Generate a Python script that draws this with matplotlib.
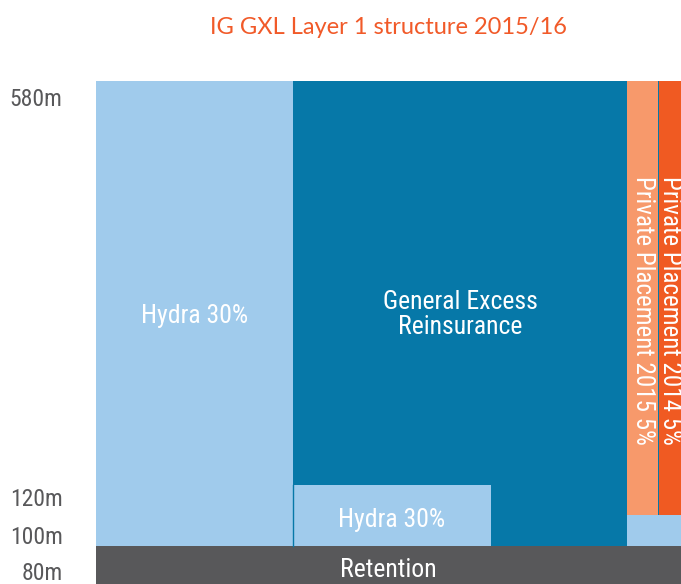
import numpy as np
import matplotlib.pyplot as plt
from matplotlib.patches import Rectangle
from matplotlib.transforms import ScaledTranslation

# layer boundaries in $m (y) and horizontal share (x, 0-100)
tick_values = [80, 100, 120, 580]
tick_labels = ["80m", "100m", "120m", "580m"]

block_names = ["Retention", "Hydra 30%", "General Excess\nReinsurance", "Hydra 30%",
               "", "Private Placement 2015 5%", "Private Placement 2014 5%"]
block_x0 = [0, 0, 33.7, 33.7, 90.8, 90.8, 96.3]
block_x1 = [100, 33.7, 90.8, 67.5, 100, 96.1, 100]
block_y0 = [0, 80, 80, 80, 80, 100, 100]
block_y1 = [80, 580, 580, 120, 100, 580, 580]

C_LIGHT = "#A0CBEC"
C_DARK = "#0678A8"
C_GREY = "#58585A"
C_PEACH = "#F7996B"
C_ORANGE = "#F05A22"
block_colors = [C_GREY, C_LIGHT, C_DARK, C_LIGHT, C_LIGHT, C_PEACH, C_ORANGE]

NARROW = ["Roboto Condensed", "DejaVu Sans"]

# the original stretches the small layers; piecewise scale (value -> px height)
scale_v = [0, 80, 100, 120, 580]
scale_px = [0, 38, 69, 99, 503]


def fwd(v):
    return np.interp(v, scale_v, scale_px)


def inv(p):
    return np.interp(p, scale_px, scale_v)


def main():
    fig = plt.figure(figsize=(6.81, 5.84), dpi=100)
    ax = fig.add_axes([96 / 681, 0, 1 - 96 / 681, 503 / 584])
    ax.set_yscale("function", functions=(fwd, inv))
    ax.set_xlim(0, 100)
    ax.set_ylim(0, 580)

    # background strip so the thin seams show in dark blue
    ax.add_patch(Rectangle((33.7, 80), 66.3, 500, color=C_DARK, lw=0))
    for x0, x1, y0, y1, c in zip(block_x0, block_x1, block_y0, block_y1, block_colors):
        ax.add_patch(Rectangle((x0, y0), x1 - x0, y1 - y0, color=c, lw=0))
    ax.plot([33.7, 33.7], [80, 120], color=C_DARK, lw=1)

    # block labels
    ax.text(50, 30, block_names[0], ha="center", va="center", color="white",
            fontsize=18.5, family=NARROW)
    ax.text(16.85, 312, block_names[1], ha="center", va="center", color="white",
            fontsize=18.5, family=NARROW)
    ax.text(62.25, 314, block_names[2], ha="center", va="center", color="white",
            fontsize=18.5, family=NARROW, linespacing=1.05)
    ax.text(50.6, 97, block_names[3], ha="center", va="center", color="white",
            fontsize=18.5, family=NARROW)
    for i in (5, 6):
        ax.text((block_x0[i] + block_x1[i]) / 2, 472, block_names[i], rotation=-90,
                ha="center", va="top", color="white", fontsize=18, family=NARROW)

    # y labels, nudged below their boundary like in the original
    ax.set_yticks(tick_values)
    ax.set_yticklabels(tick_labels, family=NARROW, fontsize=17, color=C_GREY)
    ax.tick_params(axis="y", length=0, pad=24)
    ax.set_xticks([])
    label_dy = [25, 20, 12, 16]
    for lab, dy in zip(ax.get_yticklabels(), label_dy):
        lab.set_transform(lab.get_transform() + ScaledTranslation(0, -dy / 100, fig.dpi_scale_trans))
    for s in ax.spines.values():
        s.set_visible(False)

    fig.text((96 + 681) / 2 / 681, 1 - 28 / 584, "IG GXL Layer 1 structure 2015/16",
             ha="center", va="center", color="#F15A29", fontsize=17, family=["Lato", "DejaVu Sans"])

    fig.savefig("out.png", dpi=100)


if __name__ == "__main__":
    main()
